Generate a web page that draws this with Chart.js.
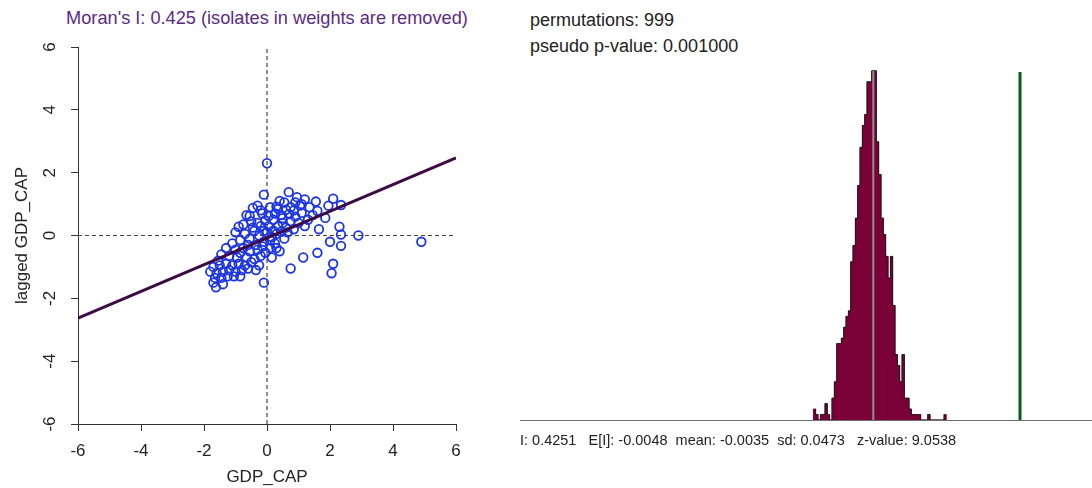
<!DOCTYPE html>
<html>
<head>
<meta charset="utf-8">
<script src="https://cdn.jsdelivr.net/npm/chart.js@4.4.1/dist/chart.umd.min.js"></script>
<style>
  body { margin: 0; background: #fff; width: 1092px; height: 488px; position: relative; overflow: hidden; font-family: 'Liberation Sans', Arial, sans-serif; }
  #moranTitle { position: absolute; left: 38px; width: 458px; top: 8px; text-align: center; font-size: 18.2px; color: #5a2b84; }
  #permHeader { position: absolute; left: 530px; top: 7px; font-size: 18px; line-height: 26px; color: #222; }
  #scatter { position: absolute; left: 0; top: 0; }
  #hist { position: absolute; left: 500px; top: 0; }
</style>
</head>
<body>
<div id="moranTitle">Moran's I: 0.425 (isolates in weights are removed)</div>
<div id="permHeader">permutations: 999<br>pseudo p-value: 0.001000</div>
<canvas id="scatter" width="500" height="488"></canvas>
<canvas id="hist" width="592" height="488"></canvas>
<script>
// valores (GDP_CAP padronizado x defasagem espacial)
const gdpCap = [
  0.0, -0.1, 0.69, 0.95, 1.2, 1.55, 2.1, 0.4, 0.55, 0.9,
  2.35, 1.95, -0.3, -0.45, 0.1, 0.3, 0.75, 1.05, 1.35, -0.2,
  0.6, -0.65, -0.55, -0.15, 0.05, 0.25, 0.45, 0.7, 0.9, 1.1,
  1.6, 1.85, -0.9, -0.5, -0.3, -0.05, 0.2, 0.5, 0.75, 1.0,
  1.3, 1.65, 2.3, -0.75, -0.2, 0.35, 0.6, 0.85, 1.2, -1.0,
  -0.7, -0.4, -0.25, 0.0, 0.15, 0.3, 0.45, -0.55, -0.85, -0.1,
  0.1, 0.25, 0.55, 2.0, 2.35, 2.9, 2.35, 4.9, -1.1, -0.35,
  -1.3, -1.0, -0.75, -0.55, -0.3, -0.05, 0.1, 0.4, 1.6, 1.15,
  -1.45, -1.2, -0.95, -0.65, -0.4, 0.15, -1.55, -0.85, -0.2, -1.7,
  -1.5, -1.3, -1.1, -0.9, -0.7, -0.5, -0.25, 0.75, 2.1, 2.05,
  -1.8, -1.6, -1.4, -1.2, -1.0, -0.8, -0.6, -0.35, -1.65, -1.45,
  -1.25, -1.05, -1.7, -1.62, -1.4, -0.1, -0.85, 0.05, -0.1, 0.2,
  0.5, 0.35, 0.85, 1.1, -0.45, -0.6, -0.15, 0.3, 0.65, 1.45
];
const laggedGdpCap = [
  2.3, 1.3, 1.38, 1.22, 1.15, 1.08, 1.17, 1.1, 1.05, 1.05,
  0.97, 0.95, 0.95, 0.88, 0.9, 0.92, 0.9, 0.95, 0.9, 0.8,
  0.82, 0.65, 0.62, 0.7, 0.62, 0.7, 0.65, 0.68, 0.6, 0.72,
  0.78, 0.56, 0.28, 0.45, 0.4, 0.48, 0.5, 0.4, 0.45, 0.4,
  0.5, 0.2, 0.28, 0.35, 0.3, 0.3, 0.25, 0.2, 0.3, 0.1,
  0.05, 0.15, 0.0, 0.1, -0.05, 0.05, 0.12, -0.1, -0.15, -0.2,
  -0.15, -0.25, -0.1, -0.2, 0.03, 0.0, -0.33, -0.2, -0.25, -0.3,
  -0.4, -0.45, -0.4, -0.5, -0.45, -0.55, -0.4, -0.5, -0.55, -0.7,
  -0.6, -0.65, -0.7, -0.7, -0.75, -0.7, -0.8, -0.55, -0.65, -1.0,
  -0.95, -0.9, -0.95, -0.9, -0.95, -0.85, -0.95, -1.05, -0.9, -1.2,
  -1.15, -1.2, -1.15, -1.1, -1.15, -1.1, -1.05, -1.1, -1.35, -1.35,
  -1.3, -1.3, -1.5, -1.65, -1.55, -1.5, -1.3, 0.3, 0.15, 0.15,
  0.55, 0.85, 0.8, 1.0, 0.25, -0.3, -0.35, -0.4, 0.1, 0.65
];
const moranSlope = 0.425;
const moranIntercept = -0.08;
const axisTicks = [-6, -4, -2, 0, 2, 4, 6];

// histograma das 999 permutações
const binStart = -0.1787;
const binWidth = 0.00682;
const histCounts = [
  2, 1, 0, 1, 1, 3, 1, 0, 4, 7,
  14, 14, 15, 17, 19, 20, 29, 32, 37, 43,
  50, 54, 56, 62, 62, 64, 64, 51, 45, 37,
  34, 30, 26, 30, 21, 12, 10, 7, 12, 4,
  4, 2, 1, 1, 1, 1, 0, 0, 0, 1,
  0, 0, 0, 0, 0, 0, 1
];
const observedI = 0.4251;
const meanI = -0.0035;
const observedLineTop = 63.8;
const meanLineTop = 64;
const statsText = 'I: 0.4251   E[I]: -0.0048  mean: -0.0035  sd: 0.0473   z-value: 9.0538';

const fontFam = "'Liberation Sans', Arial, sans-serif";

/* ===== gráfico de dispersão de Moran ===== */
const pontos = gdpCap.map((x, i) => ({ x, y: laggedGdpCap[i] }));
const xMin = axisTicks[0], xMax = axisTicks[axisTicks.length - 1];

new Chart(document.getElementById('scatter'), {
  type: 'scatter',
  data: {
    datasets: [
      {
        type: 'line',
        data: [{ x: 0, y: xMin }, { x: 0, y: xMax }],
        borderColor: '#444',
        borderWidth: 1.2,
        borderDash: [4, 3],
        pointRadius: 0,
        order: 3
      },
      {
        type: 'line',
        data: [{ x: xMin, y: 0 }, { x: xMax, y: 0 }],
        borderColor: '#444',
        borderWidth: 1.2,
        borderDash: [4, 3],
        pointRadius: 0,
        order: 3
      },
      {
        data: pontos,
        pointStyle: 'circle',
        pointRadius: 4.3,
        pointBorderWidth: 1.8,
        pointBorderColor: '#1c35e0',
        pointBackgroundColor: 'rgba(0,0,0,0)',
        order: 2
      },
      {
        type: 'line',
        data: [
          { x: xMin, y: moranSlope * xMin + moranIntercept },
          { x: xMax, y: moranSlope * xMax + moranIntercept }
        ],
        borderColor: '#3d0a45',
        borderWidth: 3,
        pointRadius: 0,
        order: 1
      }
    ]
  },
  options: {
    responsive: false,
    animation: false,
    events: [],
    layout: { padding: { top: 47, right: 44, left: 0, bottom: 0 } },
    plugins: { legend: { display: false }, tooltip: { enabled: false } },
    scales: {
      x: {
        type: 'linear', min: xMin, max: xMax,
        afterBuildTicks: s => { s.ticks = axisTicks.map(v => ({ value: v })); },
        afterFit: s => { s.height = 64; },
        ticks: { color: '#222', font: { family: fontFam, size: 17 }, padding: 10, maxRotation: 0, autoSkip: false },
        grid: { drawOnChartArea: false, drawTicks: true, tickLength: 7, color: '#333' },
        border: { color: '#333', width: 1 },
        title: { display: true, text: 'GDP_CAP', color: '#222', font: { family: fontFam, size: 17 }, padding: { top: 0, bottom: 0 } }
      },
      y: {
        type: 'linear', min: xMin, max: xMax,
        afterBuildTicks: s => { s.ticks = axisTicks.map(v => ({ value: v })); },
        afterFit: s => { s.width = 78; },
        ticks: { color: '#222', font: { family: fontFam, size: 17 }, padding: 13, minRotation: 90, maxRotation: 90, crossAlign: 'center', autoSkip: false },
        grid: { drawOnChartArea: false, drawTicks: true, tickLength: 7, color: '#333' },
        border: { color: '#333', width: 1 },
        title: { display: true, text: 'lagged GDP_CAP', color: '#222', font: { family: fontFam, size: 17 }, padding: { top: 12, bottom: 0 } }
      }
    }
  }
});

/* ===== histograma de referência ===== */
const barras = histCounts.map((c, i) => ({ x: binStart + binWidth * (i + 0.5), y: c }));

new Chart(document.getElementById('hist'), {
  type: 'bar',
  data: {
    datasets: [
      {
        type: 'line',
        data: [{ x: meanI, y: 0 }, { x: meanI, y: meanLineTop }],
        borderColor: '#8f8f8f',
        borderWidth: 2,
        pointRadius: 0,
        order: 0
      },
      {
        type: 'line',
        data: [{ x: observedI, y: 0 }, { x: observedI, y: observedLineTop }],
        borderColor: '#0b5a1e',
        borderWidth: 3,
        pointRadius: 0,
        order: 0
      },
      {
        type: 'line',
        data: barras,
        stepped: 'middle',
        borderColor: '#1a1a1a',
        borderWidth: 1,
        pointRadius: 0,
        order: 1
      },
      {
        data: barras,
        backgroundColor: '#7a0038',
        borderWidth: 0,
        barPercentage: 1,
        categoryPercentage: 1,
        order: 2
      }
    ]
  },
  options: {
    responsive: false,
    animation: false,
    events: [],
    layout: { padding: { top: 60, right: 0, left: 20, bottom: 0 } },
    plugins: { legend: { display: false }, tooltip: { enabled: false } },
    scales: {
      x: {
        type: 'linear', min: -1.0356, max: 0.6354, offset: false,
        afterFit: s => { s.height = 68; },
        ticks: { display: false },
        grid: { display: false, drawTicks: false },
        border: { display: true, color: '#6e6e6e', width: 1 },
        title: {
          display: true, text: statsText, align: 'start', color: '#222',
          font: { family: fontFam, size: 14.5 }, padding: { top: 0, bottom: 38 }
        }
      },
      y: { display: false, min: 0, max: 66 }
    }
  }
});
</script>
</body>
</html>
